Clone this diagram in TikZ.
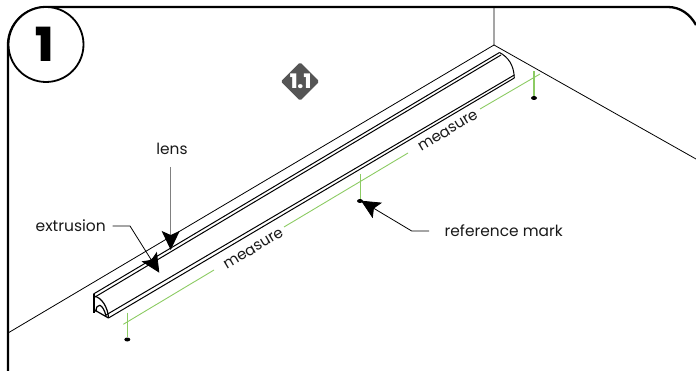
\documentclass[tikz,border=0pt]{standalone}
\usepackage{fontspec}
\setmainfont{Poppins}
\newfontfamily\heavyfont{Poppins ExtraBold}
\usetikzlibrary{arrows.meta,shapes.geometric}
\definecolor{dimgreen}{HTML}{8CCB63}
\definecolor{leadgray}{HTML}{808080}
\definecolor{badge}{HTML}{555555}
\tikzset{
  px/.style={x=1pt,y=-1pt},
  frameline/.style={line width=2.3pt,black},
  wall/.style={line width=0.8pt,black},
  body/.style={line width=1pt,black},
  dimline/.style={line width=0.9pt,dimgreen},
  tickline/.style={line width=1pt,dimgreen},
  lead/.style={line width=0.8pt,black},
  txtlabel/.style={font=\fontsize{15.4}{16}\selectfont,inner sep=0pt,text=black!90},
  dimlabel/.style={font=\fontsize{15}{16}\selectfont,inner sep=0pt,text=black!90,rotate=31},
  refdot/.style={ellipse,fill=black,minimum width=6pt,minimum height=4pt,inner sep=0pt},
  headtip/.style={-{Stealth[length=19pt,width=18pt,inset=4pt]}},
}
\begin{document}
\begin{tikzpicture}[px]
\useasboundingbox (0,0) rectangle (696,371);
% frame
\coordinate (fa) at (8,371);
\coordinate (fb) at (8,45);
\coordinate (fc) at (46,7);
\coordinate (fd) at (668,7);
\coordinate (fe) at (696,25);
\draw[frameline] (fa) -- (fb) .. controls (8,24) and (25,7) .. (fc) -- (fd) .. controls (680,7) and (690,14) .. (fe);
\node[circle,draw=black,line width=1.8pt,fill=white,minimum size=75pt,inner sep=0pt] (stepno) at (46,44.5) {};
\node[font=\heavyfont\fontsize{47}{47}\selectfont,inner sep=0pt] (one) at (45,44.5) {1};
% badge
\node[diamond,fill=badge,draw=badge,line join=round,line width=3.5pt,minimum width=35pt,minimum height=35pt,inner sep=0pt] (sub) at (300,81.5) {};
\node[font=\heavyfont\fontsize{20}{20}\selectfont,text=white,inner sep=0pt] (subt) at (300.5,81.5) {1.1};
% walls
\coordinate (corner) at (494,45);
\coordinate (walltop) at (494,7);
\coordinate (wallr) at (696,159);
\coordinate (walll) at (8,333);
\draw[wall] (walltop) -- (corner) -- (wallr);
\draw[wall] (corner) -- (walll);
% extrusion
\coordinate (a1) at (93.5,294);
\coordinate (a2) at (499.5,52.5);
\coordinate (b1) at (95,297);
\coordinate (b2) at (501,55);
\coordinate (c1) at (108.5,318);
\coordinate (c2) at (514.3,78);
\coordinate (d1) at (106,315);
\coordinate (d2) at (514.3,75);
\draw[body] (a1) -- (a2);
\draw[body] (b1) -- (b2);
\draw[body] (c1) -- (c2);
\draw[body] (d1) -- (d2);
\draw[body] (a2) .. controls (508,57) and (514,65) .. (c2);
\draw[line width=2pt] (93.5,294) -- (93.5,313);
\draw[line width=1.2pt] (93.5,296) .. controls (102,297) and (108,308) .. (108.5,318);
\draw[line width=1.2pt] (96,312) .. controls (96,302) and (103,303) .. (106,316);
\draw[line width=1.2pt] (93.5,309) -- (98,312) -- (108.5,318);
% dimension
\coordinate (g1) at (123.3,324.3);
\coordinate (g2) at (214,270);
\coordinate (g3) at (284,227);
\coordinate (g4) at (408,153);
\coordinate (g5) at (480,109);
\coordinate (g6) at (540,74);
\draw[dimline] (g1) -- (g2) (g3) -- (g4) (g5) -- (g6);
\node[dimlabel] (m1) at (253.5,249) {measure};
\node[dimlabel] (m2) at (448,131) {measure};
\node[refdot] (p1) at (127.3,339.5) {};
\node[refdot] (p2) at (360,201) {};
\node[refdot] (p3) at (534,98) {};
\coordinate (t1) at (127.3,312.7);
\coordinate (t2) at (360,174);
\coordinate (t3) at (534,71.5);
\draw[tickline] (t1) -- (p1) ;
\draw[tickline] (t2) -- (p2) ;
\draw[tickline,line width=1.4pt] (t3) -- (p3) ;
% labels
\node[txtlabel] (lens) at (172,149) {lens};
\node[txtlabel,anchor=east,font=\fontsize{15.5}{16}\selectfont] (ext) at (106,226) {extrusion};
\node[txtlabel,anchor=west] (ref) at (444.5,231) {reference mark};
\coordinate (lensTop) at (170.7,167);
\coordinate (lensTip) at (170.7,250);
\draw[line width=1.2pt,leadgray,-{Stealth[length=19pt,width=18pt,inset=4pt,black]}] (lensTop) -- (lensTip);
\coordinate (e1) at (112.7,226);
\coordinate (e2) at (130,226);
\coordinate (eTip) at (159.3,272.7);
\draw[lead,headtip] (e1) -- (e2) -- (eTip);
\coordinate (r1) at (429,231);
\coordinate (r2) at (411.7,231);
\coordinate (rTip) at (361,200.7);
\draw[lead,headtip] (r1) -- (r2) -- (rTip);
\end{tikzpicture}
\end{document}
